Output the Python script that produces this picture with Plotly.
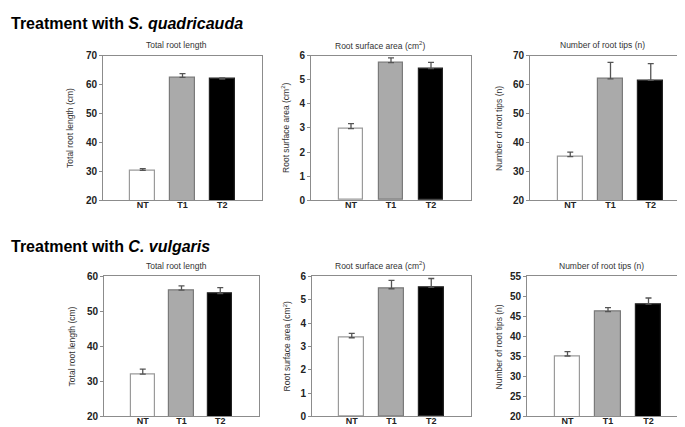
import plotly.graph_objects as go

groups = ['NT', 'T1', 'T2']

# S. quadricauda
sq_length = [30.3, 62.5, 61.9]
sq_length_err = [0.6, 1.3, 0.4]
sq_area = [2.97, 5.72, 5.47]
sq_area_err = [0.21, 0.19, 0.26]
sq_tips = [35.1, 62.0, 61.5]
sq_tips_err = [1.5, 5.7, 5.8]

# C. vulgaris
cv_length = [32.1, 56.1, 55.1]
cv_length_err = [1.4, 1.2, 1.7]
cv_area = [3.37, 5.47, 5.53]
cv_area_err = [0.19, 0.36, 0.38]
cv_tips = [35.1, 46.2, 48.1]
cv_tips_err = [1.1, 1.0, 1.5]

W, H = 685, 427

panel_titles = ['Total root length', 'Root surface area (cm<sup>2</sup>)', 'Number of root tips (n)']
yaxis_titles = ['Total root length (cm)', 'Root surface area (cm<sup>2</sup>)', 'Number of root tips (n)']

# panels: (values, errors, y range, dtick, pixel box x0, x1, y0, y1, title x, yaxis title x)
panels = [
    (sq_length, sq_length_err, [20, 70], 10, 95, 254, 43, 191.5, 168, 62),
    (sq_area, sq_area_err, [0, 6], 1, 303, 463, 43, 191.5, 372, 278),
    (sq_tips, sq_tips_err, [20, 70], 10, 522, 683, 43, 191.5, 594, 491),
    (cv_length, cv_length_err, [20, 60], 10, 96, 251, 270, 414, 168, 64),
    (cv_area, cv_area_err, [0, 6], 1, 304, 463, 270, 414, 372, 279),
    (cv_tips, cv_tips_err, [20, 55], 5, 519, 681, 270, 414, 593, 491),
]

fill_colors = ['white', '#aaaaaa', 'black']
edge_colors = ['#9a9a9a', '#7a7a7a', '#222222']

fig = go.Figure()
annotations = []

for i, (vals, errs, yr, dt, x0, x1, y0, y1, tx, ytx) in enumerate(panels):
    n = '' if i == 0 else str(i + 1)
    fig.add_trace(go.Bar(
        x=[0, 1, 2],
        y=vals,
        width=0.62,
        marker=dict(color=fill_colors, line=dict(color=edge_colors, width=1.2)),
        error_y=dict(type='data', symmetric=False, array=errs, arrayminus=[0, 0, 0],
                     color='#555555', thickness=1.3, width=3),
        xaxis='x' + n, yaxis='y' + n,
        showlegend=False,
    ))
    fig.layout['xaxis' + n] = dict(
        domain=[x0 / W, x1 / W], anchor='y' + n, range=[-1, 3],
        tickvals=[0, 1, 2], ticktext=groups, ticks='', showgrid=False, zeroline=False,
        showline=True, linecolor='#8c8c8c', linewidth=1, mirror=True,
        ticklabelstandoff=-4,
        tickfont=dict(family='Arial', size=9, color='#222222', weight='bold'),
    )
    fig.layout['yaxis' + n] = dict(
        domain=[1 - y1 / H, 1 - y0 / H], anchor='x' + n, range=yr, dtick=dt,
        ticks='outside', ticklen=3, tickcolor='#8c8c8c', showgrid=False, zeroline=False,
        showline=True, linecolor='#8c8c8c', linewidth=1, mirror=True,
        tickfont=dict(family='Arial', size=10, color='#222222', weight='bold'),
    )
    annotations.append(dict(
        text=panel_titles[i % 3], x=tx / W, y=1 - (y0 - 11) / H, xref='paper', yref='paper',
        showarrow=False, xanchor='center', yanchor='middle',
        font=dict(family='Arial', size=8.5, color='#333333'),
    ))
    annotations.append(dict(
        text=yaxis_titles[i % 3], x=ytx / W, y=1 - (y0 + y1) / 2 / H, xref='paper', yref='paper',
        showarrow=False, xanchor='center', yanchor='middle', textangle=-90,
        font=dict(family='Arial', size=8.5, color='#333333'),
    ))

annotations.append(dict(
    text='<b>Treatment with <i>S. quadricauda</i></b>', x=1 / W, y=1 - 10 / H,
    xref='paper', yref='paper', showarrow=False, xanchor='left', yanchor='middle',
    font=dict(family='Arial', size=16, color='black'),
))
annotations.append(dict(
    text='<b>Treatment with <i>C. vulgaris</i></b>', x=1 / W, y=1 - 239 / H,
    xref='paper', yref='paper', showarrow=False, xanchor='left', yanchor='middle',
    font=dict(family='Arial', size=16, color='black'),
))

fig.update_layout(
    width=W, height=H, autosize=False,
    margin=dict(l=0, r=0, t=0, b=0),
    paper_bgcolor='white', plot_bgcolor='white',
    annotations=annotations,
    bargap=0,
)

fig.write_html('out.html')
